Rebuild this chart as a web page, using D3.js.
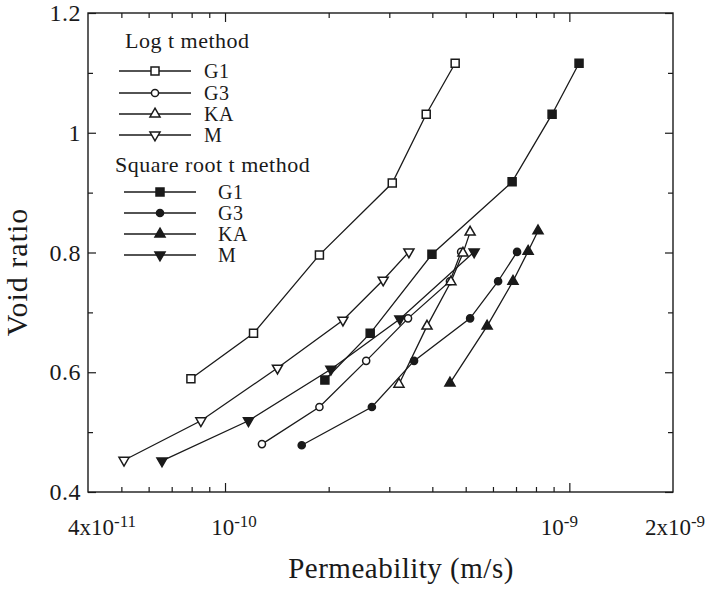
<!DOCTYPE html>
<html>
<head>
<meta charset="utf-8">
<script src="https://cdn.jsdelivr.net/npm/d3@7"></script>
<style>
  body { margin: 0; background: #fff; }
  text { font-family: 'Liberation Serif', 'DejaVu Serif', serif; }
</style>
</head>
<body>
<div id="graph"></div>
<script>
// ------DATA------
// each series: [permeability (m/s), void ratio]
const logG1 = [[7.96e-11, 0.589], [1.21e-10, 0.665], [1.88e-10, 0.796], [3.06e-10, 0.916], [3.84e-10, 1.031], [4.66e-10, 1.116]]
const logG3 = [[1.28e-10, 0.480], [1.88e-10, 0.542], [2.57e-10, 0.619], [3.40e-10, 0.690], [4.50e-10, 0.752], [4.85e-10, 0.801]]
const logKA = [[3.20e-10, 0.580], [3.86e-10, 0.677], [4.53e-10, 0.751], [4.91e-10, 0.799], [5.15e-10, 0.834]]
const logM = [[5.09e-11, 0.453], [8.51e-11, 0.519], [1.42e-10, 0.607], [2.20e-10, 0.687], [2.88e-10, 0.754], [3.42e-10, 0.801]]
const sqrtG1 = [[1.95e-10, 0.587], [2.64e-10, 0.665], [3.99e-10, 0.797], [6.82e-10, 0.918], [8.91e-10, 1.031], [1.067e-9, 1.116]]
const sqrtG3 = [[1.67e-10, 0.478], [2.67e-10, 0.542], [3.54e-10, 0.619], [5.15e-10, 0.690], [6.21e-10, 0.752], [7.05e-10, 0.801]]
const sqrtKA = [[4.50e-10, 0.582], [5.77e-10, 0.677], [6.86e-10, 0.752], [7.59e-10, 0.802], [8.11e-10, 0.836]]
const sqrtM = [[6.56e-11, 0.452], [1.17e-10, 0.519], [2.03e-10, 0.605], [3.22e-10, 0.689], [5.29e-10, 0.801]]

const seriesNames = ["G1", "G3", "KA", "M"]
const logSeries = [logG1, logG3, logKA, logM]
const sqrtSeries = [sqrtG1, sqrtG3, sqrtKA, sqrtM]

// axis ticks
const yTicks = [0.4, 0.6, 0.8, 1, 1.2]
const yMinor = [0.5, 0.7, 0.9, 1.1]
const xMajor = [1e-10, 1e-9]
const xMinor = [5e-11, 6e-11, 7e-11, 8e-11, 9e-11, 2e-10, 3e-10, 4e-10, 5e-10, 6e-10, 7e-10, 8e-10, 9e-10]
const xLabelValues = [4e-11, 1e-10, 1e-9, 2e-9]
const xLabelBases = ["4x10", "10", "10", "2x10"]
const xLabelExps = ["-11", "-10", "-9", "-9"]

// ------SETUP------
const width = 713, height = 595
const margin = { top: 13, right: 40, bottom: 103, left: 88 }
const gWidth = width - margin.left - margin.right
const gHeight = height - margin.top - margin.bottom

const svg = d3.select('#graph').append('svg')
  .attr('width', width).attr('height', height)

const graph = svg.append('g').attr('transform', `translate(${margin.left}, ${margin.top})`)

const xScale = d3.scaleLog().domain([4e-11, 2e-9]).range([0, gWidth])
const yScale = d3.scaleLinear().domain([0.4, 1.2]).range([gHeight, 0])

const ink = '#1a1a1a'

// frame
graph.append('rect')
  .attr('width', gWidth).attr('height', gHeight)
  .attr('fill', 'none').attr('stroke', ink).attr('stroke-width', 1.4)

// inward ticks on all four sides (labels drawn separately)
function tickAxis(axis, values, size, transform) {
  const g = graph.append('g').attr('transform', transform)
    .call(axis.tickValues(values).tickSize(size).tickFormat(''))
  g.select('.domain').remove()
  g.selectAll('line').attr('stroke', ink).attr('stroke-width', 1.2)
}
tickAxis(d3.axisTop(xScale), xMajor, 9, `translate(0, ${gHeight})`)
tickAxis(d3.axisTop(xScale), xMinor, 5, `translate(0, ${gHeight})`)
tickAxis(d3.axisBottom(xScale), xMajor, 9, 'translate(0, 0)')
tickAxis(d3.axisBottom(xScale), xMinor, 5, 'translate(0, 0)')
tickAxis(d3.axisRight(yScale), yTicks, 8, 'translate(0, 0)')
tickAxis(d3.axisRight(yScale), yMinor, 5, 'translate(0, 0)')
tickAxis(d3.axisLeft(yScale), yTicks, 8, `translate(${gWidth}, 0)`)
tickAxis(d3.axisLeft(yScale), yMinor, 5, `translate(${gWidth}, 0)`)

function addText(parent) {
  return parent.append('text').attr('fill', ink)
}

// y tick labels
yTicks.forEach(v => {
  addText(graph)
    .attr('x', -7).attr('y', yScale(v) + 8)
    .attr('text-anchor', 'end')
    .style('font-size', '24px').style('letter-spacing', '0.5px')
    .text(d3.format('~g')(v))
})

// x tick labels with superscript exponents (nudged like the original print)
const xLabelNudge = [14, 9, -10, 2]
xLabelValues.forEach((v, i) => {
  const t = addText(graph)
    .attr('x', xScale(v) + xLabelNudge[i]).attr('y', gHeight + 43)
    .attr('text-anchor', 'middle')
    .style('font-size', '23px')
  t.append('tspan').text(xLabelBases[i])
  t.append('tspan').attr('dy', -8).style('font-size', '17px').text(xLabelExps[i])
})

// axis titles
addText(svg)
  .attr('x', 401).attr('y', 578)
  .attr('text-anchor', 'middle')
  .style('font-size', '29px').style('letter-spacing', '0.5px')
  .text('Permeability (m/s)')

addText(svg)
  .attr('transform', 'translate(27, 272) rotate(-90)')
  .attr('text-anchor', 'middle')
  .style('font-size', '30px').style('letter-spacing', '1px')
  .text('Void ratio')

// ------MARKERS------
const symbols = [d3.symbolSquare, d3.symbolCircle, d3.symbolTriangle, d3.symbolTriangle]
const symSizes = [64, 40, 44, 44]
const rotations = [0, 0, 0, 180]

function drawMarker(sel, i, filled) {
  sel.append('path')
    .attr('d', d3.symbol().type(symbols[i]).size(symSizes[i]))
    .attr('transform', `rotate(${rotations[i]})`)
    .attr('fill', filled ? ink : '#fff')
    .attr('stroke', ink).attr('stroke-width', 1.5)
}

const line = d3.line().x(d => xScale(d[0])).y(d => yScale(d[1]))

function drawSeries(data, i, filled) {
  graph.append('path').datum(data)
    .attr('d', line)
    .attr('fill', 'none').attr('stroke', ink).attr('stroke-width', 1.3)
  const pts = graph.selectAll(null).data(data).enter().append('g')
    .attr('transform', d => `translate(${xScale(d[0])}, ${yScale(d[1])})`)
  drawMarker(pts, i, filled)
}

logSeries.forEach((s, i) => drawSeries(s, i, false))
sqrtSeries.forEach((s, i) => drawSeries(s, i, true))

// ------LEGEND------
function legendBlock(title, titleX, titleY, lineX0, lineX1, labelX, rowYs, filled) {
  addText(svg).attr('x', titleX).attr('y', titleY)
    .style('font-size', '22px').style('letter-spacing', '0.5px')
    .text(title)
  seriesNames.forEach((name, i) => {
    const y = rowYs[i]
    svg.append('line').attr('x1', lineX0).attr('x2', lineX1).attr('y1', y).attr('y2', y)
      .attr('stroke', ink).attr('stroke-width', 1.3)
    const g = svg.append('g').attr('transform', `translate(${(lineX0 + lineX1) / 2}, ${y})`)
    drawMarker(g, i, filled)
    addText(svg).attr('x', labelX).attr('y', y + 7)
      .style('font-size', '20px').style('letter-spacing', '0.5px')
      .text(name)
  })
}
legendBlock('Log t method', 125, 48, 119, 191, 204, [71, 93, 114, 135], false)
legendBlock('Square root t method', 115, 172, 124, 196, 218, [192, 213, 234, 255], true)
</script>
</body>
</html>
